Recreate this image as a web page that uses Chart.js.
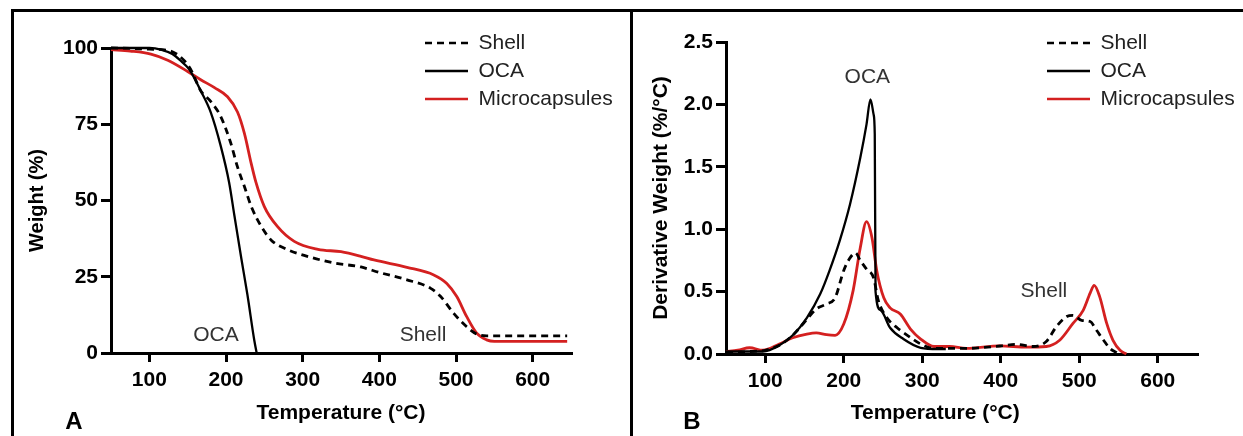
<!DOCTYPE html>
<html>
<head>
<meta charset="utf-8">
<script src="https://cdn.jsdelivr.net/npm/chart.js@4.4.1/dist/chart.umd.min.js"></script>
<style>
  html, body { margin: 0; padding: 0; background: #fff; }
  #wrap { position: relative; width: 1243px; height: 436px; overflow: hidden; }
  canvas { position: absolute; top: 0; }
  #tga { left: 0; }
  #dtg { left: 633px; }
  .frame { position: absolute; background: #000; }
</style>
</head>
<body>
<div id="wrap">
  <canvas id="tga" width="630" height="436"></canvas>
  <canvas id="dtg" width="610" height="436"></canvas>
  <div class="frame" style="left:11px;top:9px;width:1232px;height:3px"></div>
  <div class="frame" style="left:11px;top:9px;width:3px;height:427px"></div>
  <div class="frame" style="left:630px;top:9px;width:3px;height:427px"></div>
</div>
<script>
// --- data ---
const seriesNames = ["Shell", "OCA", "Microcapsules"];
const tempTicks = [100, 200, 300, 400, 500, 600];
const weightTicks = [0, 25, 50, 75, 100];
const derivTicks = [0, 0.5, 1, 1.5, 2, 2.5];

// Panel A: weight (%) vs temperature
const shellTempA = [50, 75, 100, 125, 145, 155, 167, 180, 193, 206, 215, 224, 233, 246, 259, 280, 306, 341, 376, 400, 436, 467, 480, 497, 514, 527, 540, 560, 600, 645];
const shellWeight = [100, 99.9, 99.6, 99.2, 96, 92.5, 86, 82.5, 77.6, 69, 61, 54.6, 48, 41.5, 37, 33.9, 31.7, 29.5, 28.2, 26.4, 24, 21.2, 18.5, 13, 8.6, 6.2, 5.6, 5.6, 5.6, 5.6];
const ocaTempA = [50, 100, 115, 130, 140, 152, 167, 180, 193, 204, 211, 220, 228, 237, 240];
const ocaWeight = [100, 100, 99.5, 98, 96, 93, 86, 79, 68, 56, 45, 31, 19, 4, 0];
const capsTempA = [50, 75, 102, 124, 150, 167, 185, 202, 215, 224, 233, 239, 250, 267, 289, 320, 350, 376, 393, 436, 471, 488, 501, 514, 527, 540, 550, 600, 645];
const capsWeight = [99.5, 99, 98, 96, 92.3, 89.6, 87, 84, 79, 72, 62, 56, 48, 41.5, 36.6, 34, 33.2, 31.7, 30.5, 28.1, 25.6, 22.8, 18.5, 11.9, 6.5, 4.3, 3.8, 3.8, 3.8];

// Panel B: derivative weight (%/°C) vs temperature
const shellTempB = [50, 80, 100, 118, 135, 148, 165, 178, 189, 200, 208, 215, 221, 229, 238, 244, 255, 268, 281, 298, 315, 356, 399, 420, 441, 458, 471, 484, 492, 503, 514, 522, 531, 539, 548];
const shellDeriv = [0.01, 0.02, 0.03, 0.07, 0.15, 0.24, 0.36, 0.4, 0.45, 0.67, 0.77, 0.81, 0.75, 0.68, 0.61, 0.43, 0.29, 0.21, 0.15, 0.08, 0.045, 0.045, 0.064, 0.077, 0.06, 0.1, 0.22, 0.3, 0.31, 0.27, 0.26, 0.19, 0.11, 0.045, 0.01];
const ocaTempB = [50, 75, 97, 118, 135, 153, 170, 182, 195, 208, 221, 229, 234, 238, 239.5, 240.5, 247, 259, 276, 298, 320, 330];
const ocaDeriv = [0.02, 0.02, 0.02, 0.07, 0.15, 0.29, 0.48, 0.67, 0.91, 1.2, 1.57, 1.84, 2.04, 1.92, 1.76, 0.5, 0.35, 0.21, 0.12, 0.05, 0.04, 0.04];
const capsTempB = [50, 65, 80, 97, 118, 135, 153, 165, 178, 189, 200, 212, 221, 229, 236, 242, 251, 259, 272, 285, 298, 315, 335, 356, 399, 433, 458, 475, 492, 505, 514, 519, 526, 535, 543, 552, 560];
const capsDeriv = [0.02, 0.03, 0.05, 0.03, 0.08, 0.13, 0.16, 0.17, 0.155, 0.15, 0.24, 0.51, 0.85, 1.06, 0.93, 0.67, 0.45, 0.37, 0.32, 0.2, 0.12, 0.06, 0.06, 0.045, 0.065, 0.055, 0.06, 0.11, 0.245, 0.35, 0.49, 0.55, 0.46, 0.245, 0.11, 0.03, 0.0];

// text notes placed in data coordinates
const notesA = [{ text: "OCA", x: 187, y: 5.9 }, { text: "Shell", x: 457, y: 5.9 }];
const notesB = [{ text: "OCA", x: 230, y: 2.22 }, { text: "Shell", x: 455, y: 0.5 }];

const FONT = "'Liberation Sans', Arial, sans-serif";
const RED = "#d42020";
const pts = (xs, ys) => xs.map((x, i) => ({ x, y: ys[i] }));

function panel(id, o) {
  // annotations, panel letter, and legend placement
  const extras = {
    id: "extras",
    afterLayout(chart) {
      const lg = chart.legend;
      lg.left = o.legendX; lg.top = 25.5;
      lg.width = 230; lg.height = 120;
      lg.right = lg.left + 230; lg.bottom = lg.top + 120;
    },
    afterDatasetsDraw(chart) {
      const { ctx, scales: { x, y } } = chart;
      ctx.save();
      ctx.font = "21px " + FONT;
      ctx.fillStyle = "#333";
      ctx.textAlign = "center";
      ctx.textBaseline = "middle";
      o.notes.forEach(n => ctx.fillText(n.text, x.getPixelForValue(n.x), y.getPixelForValue(n.y)));
      ctx.font = "bold 24px " + FONT;
      ctx.fillStyle = "#000";
      ctx.fillText(o.letter, o.letterX, 422);
      ctx.restore();
    }
  };

  const tickFont = { family: FONT, size: 21, weight: "bold" };

  return new Chart(document.getElementById(id), {
    type: "line",
    data: {
      datasets: [
        { label: seriesNames[0], data: o.shell, borderColor: "#000", borderWidth: 2.8, borderDash: [7, 5] },
        { label: seriesNames[1], data: o.oca, borderColor: "#000", borderWidth: 2.3 },
        { label: seriesNames[2], data: o.caps, borderColor: RED, borderWidth: 2.8 }
      ]
    },
    options: {
      responsive: false,
      animation: false,
      events: [],
      layout: { padding: o.pad },
      elements: {
        point: { radius: 0 },
        line: { cubicInterpolationMode: "monotone", fill: false }
      },
      datasets: { line: { clip: 6 } },
      scales: {
        x: {
          type: "linear", min: 50, max: 650,
          afterBuildTicks: s => { s.ticks = tempTicks.map(v => ({ value: v })); },
          afterFit: s => { s.height = o.xHeight; },
          border: { display: true, color: "#000", width: 3 },
          grid: { drawOnChartArea: false, drawTicks: true, tickLength: 9, color: "#000", lineWidth: 3 },
          ticks: { color: "#000", font: tickFont, padding: 6, maxRotation: 0, autoSkip: false },
          title: { display: true, text: o.xTitle, color: "#000",
                   font: { family: FONT, size: 21, weight: "bold" }, padding: { top: 0, bottom: 10 } }
        },
        y: {
          type: "linear", min: 0, max: o.yMax,
          afterBuildTicks: s => { s.ticks = o.yTicks.map(v => ({ value: v })); },
          afterFit: s => { s.width = o.yWidth; },
          border: { display: true, color: "#000", width: 3 },
          grid: { drawOnChartArea: false, drawTicks: true, tickLength: 10, color: "#000", lineWidth: 3 },
          ticks: { color: "#000", font: tickFont, padding: 3, callback: o.yFmt },
          title: { display: true, text: o.yTitle, color: "#000",
                   font: { family: FONT, size: o.yTitleSize, weight: "bold" }, padding: { top: o.yTitlePad, bottom: 0 } }
        }
      },
      plugins: {
        tooltip: { enabled: false },
        legend: {
          position: "chartArea",
          align: "start",
          labels: {
            usePointStyle: true,
            pointStyle: "line",
            pointStyleWidth: 43,
            padding: 7,
            color: "#222",
            font: { family: FONT, size: 21 },
            generateLabels: chart => chart.data.datasets.map((d, i) => ({
              text: d.label,
              datasetIndex: i,
              pointStyle: "line",
              strokeStyle: d.borderColor,
              fillStyle: d.borderColor,
              lineWidth: 2.6,
              lineDash: d.borderDash || [],
              fontColor: "#222",
              hidden: false
            }))
          }
        }
      }
    },
    plugins: [extras]
  });
}

panel("tga", {
  shell: pts(shellTempA, shellWeight),
  oca: pts(ocaTempA, ocaWeight),
  caps: pts(capsTempA, capsWeight),
  pad: { left: 16, right: 59, top: 48, bottom: 0 },
  xHeight: 83, yWidth: 95,
  yMax: 100, yTicks: weightTicks, yFmt: v => String(v),
  yTitle: "Weight (%)", yTitleSize: 20, yTitlePad: 9,
  xTitle: "Temperature (°C)",
  notes: notesA, letter: "A", letterX: 74, legendX: 418
});

panel("dtg", {
  shell: pts(shellTempB, shellDeriv),
  oca: pts(ocaTempB, ocaDeriv),
  caps: pts(capsTempB, capsDeriv),
  pad: { left: 6, right: 46, top: 42, bottom: 0 },
  xHeight: 82, yWidth: 87,
  yMax: 2.5, yTicks: derivTicks, yFmt: v => Number(v).toFixed(1),
  yTitle: "Derivative Weight (%/°C)", yTitleSize: 21, yTitlePad: 10,
  xTitle: "Temperature (°C)         ",
  notes: notesB, letter: "B", letterX: 59, legendX: 407
});
</script>
</body>
</html>
